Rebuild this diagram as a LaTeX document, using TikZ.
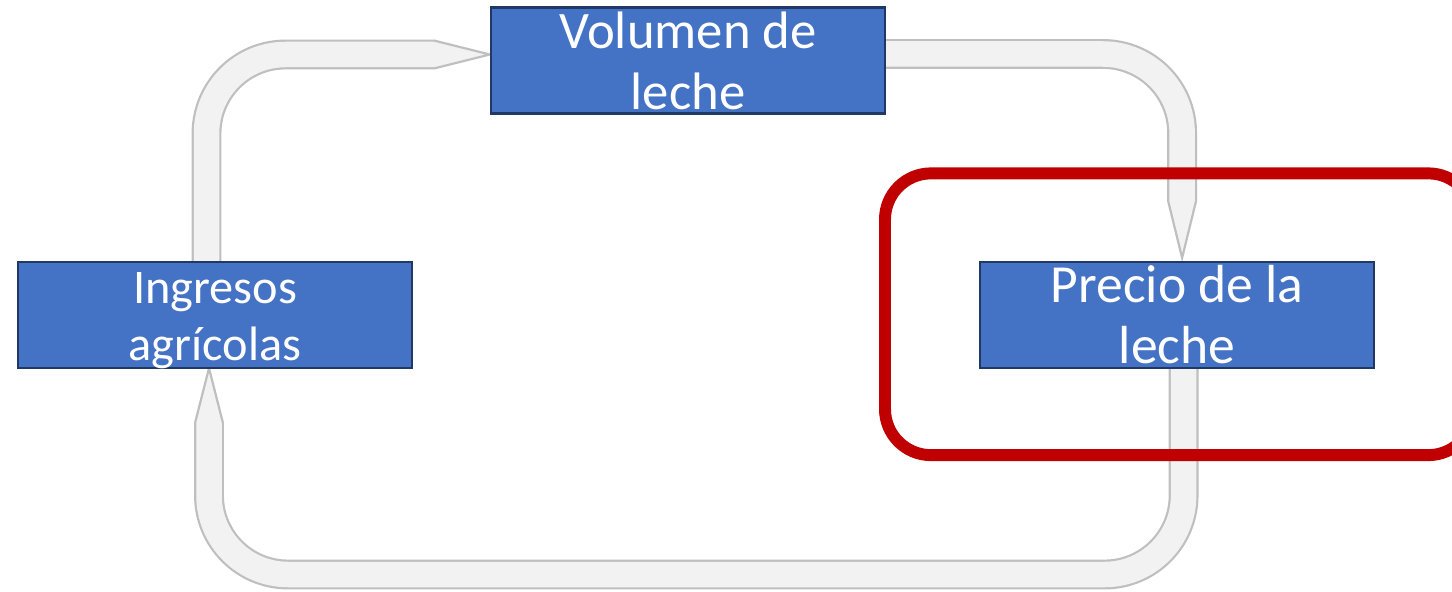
\documentclass[tikz,border=0pt]{standalone}
\usepackage{fontspec}
\setmainfont{Carlito}
\usepackage{tikz}
\usetikzlibrary{positioning}
\usetikzlibrary{calc}
\definecolor{boxblue}{HTML}{4472C4}
\definecolor{boxedge}{HTML}{203864}
\definecolor{shaftfill}{HTML}{F2F2F2}
\definecolor{shaftedge}{HTML}{BFBFBF}
\definecolor{ringred}{HTML}{C00000}
\tikzstyle{block}=[draw=boxedge,fill=boxblue,line width=1.3pt,rectangle,minimum width=7.88cm,minimum height=2.12cm,inner sep=0pt]
\newcommand{\tiphead}[2]{%
  \fill[shaftfill] ($(#1)!0.28cm!90:(#2)$) -- (#2) -- ($(#1)!0.28cm!-90:(#2)$) -- cycle;
  \draw[shaftedge,line width=1.25pt] ($(#1)!0.28cm!90:(#2)$) -- (#2) -- ($(#1)!0.28cm!-90:(#2)$);}

\begin{document}
\begin{tikzpicture}[x=0.02cm,y=-0.02cm,
  blocktext/.style={text=white,align=center,anchor=base,inner sep=0pt},
  shaft/.style={line width=1.25pt,draw=shaftedge,double=shaftfill,double distance=0.51cm,rounded corners=1.58cm},
  ring/.style={draw=ringred,line width=6.8pt,rounded corners=0.92cm}]
\useasboundingbox (0,0) rectangle (1452,591);
\clip (0,0) rectangle (1452,591);
\node [block] (ingresos) at (215,315) {};
\node [block, right=11.32cm of ingresos] (precio) {};
\node [block] (volumen) at (688,60.5) {};
% ingresos -> volumen
\coordinate (s1) at ($(ingresos.north)+(-8.5,0)$);
\coordinate (t1) at ($(volumen.west)+(0,-6)$);
\coordinate (b1) at ($(t1)+(-56,0)$);
\draw[shaft] (s1) |- (b1);
\tiphead{b1}{t1}
% volumen -> precio
\coordinate (s2) at ($(volumen.east)+(0,-6.5)$);
\coordinate (t2) at ($(precio.north)+(5,-3)$);
\coordinate (b2) at ($(t2)+(0,-57)$);
\draw[shaft] (s2) -| (b2);
\tiphead{b2}{t2}
% precio -> ingresos
\coordinate (s3) at ($(precio.south)+(6.5,0)$);
\coordinate (low) at (700,574.5);
\coordinate (t3) at ($(ingresos.south)+(-6,-1)$);
\coordinate (b3) at ($(t3)+(0,55)$);
\draw[shaft] (s3) -- (s3 |- low) -- (b3 |- low) -- (b3);
\tiphead{b3}{t3}
% boxes on top of the shafts
\node [block] (ingresos-b) at (ingresos) {};
\node [block] (precio-b) at (precio) {};
\node [block] (volumen-b) at (volumen) {};
\draw[ring] ($(precio.north west)+(-94,-87.5)$) rectangle ($(precio.south east)+(99,86)$);
\node [blocktext,font=\fontsize{30}{35.2}\selectfont] (volumen-t) at ($(volumen.center)+(0,49.5)$) {Volumen de\\leche};
\node [blocktext,font=\fontsize{27.5}{32.3}\selectfont] (ingresos-t) at ($(ingresos.center)+(0,45)$) {Ingresos\\agrícolas};
\node [blocktext,font=\fontsize{30.5}{34.6}\selectfont] (precio-t) at ($(precio.center)+(0,48)$) {Precio de la\\leche};
\end{tikzpicture}
\end{document}
